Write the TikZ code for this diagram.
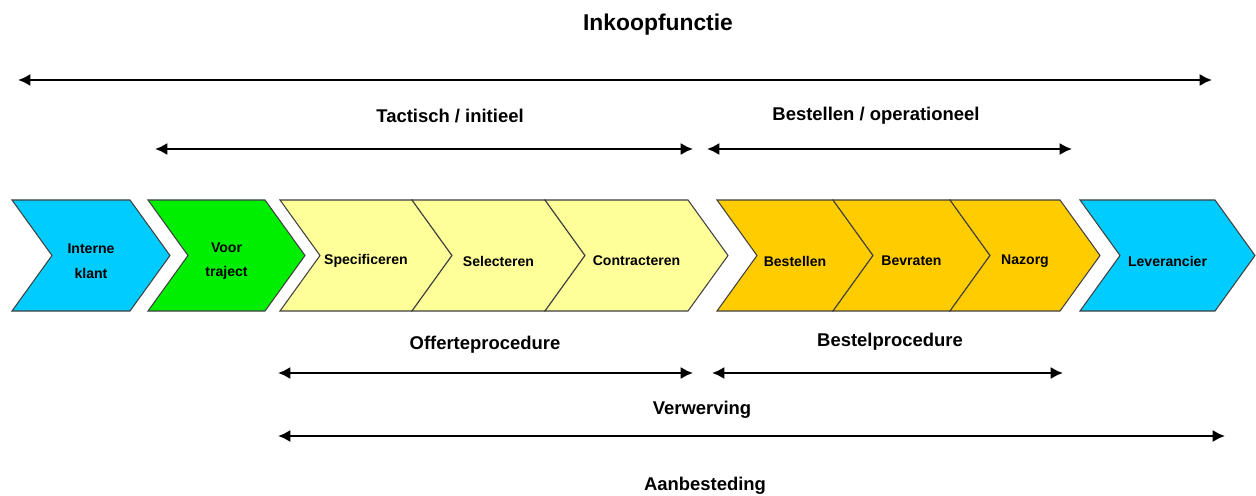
\documentclass[tikz,border=0pt]{standalone}
\usepackage{fontspec}
\setmainfont{Liberation Sans}
\usetikzlibrary{arrows.meta, positioning}
\definecolor{klantblue}{RGB}{0,204,255}
\definecolor{voorgreen}{RGB}{0,238,0}
\definecolor{offyellow}{RGB}{255,255,153}
\definecolor{bestorange}{RGB}{255,204,0}

\begin{document}
\begin{tikzpicture}[x=0.02cm, y=-0.02cm,
    chevron/.style={draw=black!75, line width=0.6pt},
    steptext/.style={font=\bfseries\fontsize{8}{14}\selectfont, align=center},
    span/.style={{Latex[length=7pt,width=7pt]}-{Latex[length=7pt,width=7pt]}, line width=1.5pt},
    spantext/.style={font=\bfseries\fontsize{10.5}{12}\selectfont}]
    \useasboundingbox (0,0) rectangle (1256,496);
    % chevrons: left x / corner x / fill / name / text
    \foreach \a/\b/\c/\n/\t in
    {12/130/klantblue/klant/{Interne\\klant},
     148/265/voorgreen/voor/{Voor\\traject},
     280/412/offyellow/spec/Specificeren,
     412/545/offyellow/sel/Selecteren,
     545/688/offyellow/contr/Contracteren,
     717/833/bestorange/best/Bestellen,
     833/950/bestorange/bev/Bevraten,
     950/1060/bestorange/naz/Nazorg,
     1080/1215/klantblue/lev/Leverancier}
    {
        \filldraw[chevron, fill=\c] (\a,200) -- (\b,200) -- (\b+40,255.5) -- (\b,311)
            -- (\a,311) -- (\a+40,255.5) -- cycle;
        \node[steptext] (\n) at ({(\a+\b+40)/2},261) {\t};
    }
    % span arrows
    \coordinate (inkL) at (18,80);    \coordinate (inkR) at (1212,80);
    \coordinate (tacL) at (155,149);  \coordinate (tacR) at (693,149);
    \coordinate (opsL) at (707,149);  \coordinate (opsR) at (1072,149);
    \coordinate (offL) at (278,373);  \coordinate (offR) at (693,373);
    \coordinate (bprL) at (712,373);  \coordinate (bprR) at (1063,373);
    \coordinate (verL) at (278,436);  \coordinate (verR) at (1225,436);
    \foreach \from/\to in
    {inkL/inkR,tacL/tacR,opsL/opsR,offL/offR,bprL/bprR,verL/verR}
        \draw[span] (\from) -- (\to);
    % labels
    \node[spantext, font=\bfseries\fontsize{13}{15}\selectfont] (inkoop) at (658,25) {Inkoopfunctie};
    \node[spantext] (tactisch) at (450,116) {Tactisch / initieel};
    \node[spantext] (operationeel) at (876,116) {Bestellen / operationeel};
    \node[spantext] (offerte) at (485,345) {Offerteprocedure};
    \node[spantext] (bestel) at (890,342) {Bestelprocedure};
    \node[spantext] (verwerving) at (702,410) {Verwerving};
    \node[spantext] (aanbesteding) at (705,486) {Aanbesteding};
\end{tikzpicture}
\end{document}
